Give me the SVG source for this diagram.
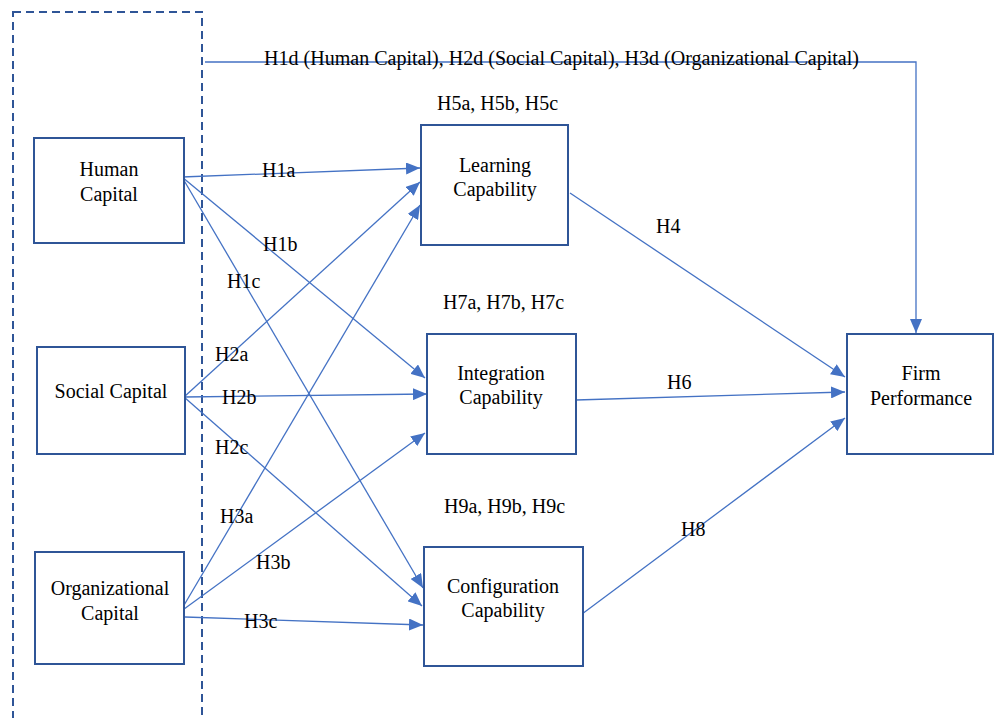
<svg xmlns="http://www.w3.org/2000/svg" width="994" height="718" viewBox="0 0 994 718">
<style>
.box{fill:#fff;stroke:#2F5597;stroke-width:2}
.t{font-family:'Liberation Serif','Times New Roman','Tinos','Nimbus Roman','DejaVu Serif',serif;font-size:20px;fill:#000}
.c{text-anchor:middle}
.ln{fill:none;stroke:#4472C4;stroke-width:1.3;marker-end:url(#ah)}
</style>
<defs>
<marker id="ah" markerUnits="userSpaceOnUse" markerWidth="14" markerHeight="12" refX="14" refY="6" orient="auto">
<path d="M0,0 L14,6 L0,12 z" fill="#4472C4"/>
</marker>
</defs>
<rect width="994" height="718" fill="#fff"/>
<g id="boundary">
<rect x="13" y="12" width="189" height="730" fill="none" stroke="#2F5597" stroke-width="2" stroke-dasharray="8,5"/>
</g>
<g id="connectors">
<polyline class="ln" points="205,62 916,62 916,333"/>
<line class="ln" x1="182" y1="177" x2="420" y2="168"/>
<line class="ln" x1="182" y1="177" x2="425" y2="378"/>
<line class="ln" x1="182" y1="177" x2="423" y2="588"/>
<line class="ln" x1="184" y1="397" x2="420" y2="182"/>
<line class="ln" x1="184" y1="397" x2="427" y2="394"/>
<line class="ln" x1="184" y1="397" x2="422" y2="606"/>
<line class="ln" x1="180" y1="612" x2="420" y2="205"/>
<line class="ln" x1="180" y1="612" x2="425" y2="433"/>
<line class="ln" x1="185" y1="617" x2="423" y2="625"/>
<line class="ln" x1="570" y1="193" x2="845" y2="377"/>
<line class="ln" x1="576" y1="400" x2="845" y2="392"/>
<line class="ln" x1="578" y1="617" x2="845" y2="418"/>
</g>
<g id="labels">
<text class="t" x="264" y="65" textLength="595" lengthAdjust="spacingAndGlyphs">H1d (Human Capital), H2d (Social Capital), H3d (Organizational Capital)</text>
<text class="t" x="437" y="110">H5a, H5b, H5c</text>
<text class="t" x="443" y="309">H7a, H7b, H7c</text>
<text class="t" x="444" y="513">H9a, H9b, H9c</text>
<text class="t" x="262" y="177">H1a</text>
<text class="t" x="263" y="251">H1b</text>
<text class="t" x="227" y="288">H1c</text>
<text class="t" x="215" y="361">H2a</text>
<text class="t" x="222" y="404">H2b</text>
<text class="t" x="215" y="454">H2c</text>
<text class="t" x="220" y="523">H3a</text>
<text class="t" x="256" y="569">H3b</text>
<text class="t" x="244" y="628">H3c</text>
<text class="t" x="656" y="233">H4</text>
<text class="t" x="667" y="389">H6</text>
<text class="t" x="681" y="536">H8</text>
</g>
<g id="human-capital">
<rect class="box" x="34" y="138" width="150" height="105"/>
<text class="t c" x="109" y="176">Human</text>
<text class="t c" x="109" y="201">Capital</text>
</g>
<g id="social-capital">
<rect class="box" x="37" y="347" width="148" height="107"/>
<text class="t c" x="111" y="398">Social Capital</text>
</g>
<g id="organizational-capital">
<rect class="box" x="35" y="552" width="149" height="112"/>
<text class="t c" x="110" y="595">Organizational</text>
<text class="t c" x="110" y="620">Capital</text>
</g>
<g id="learning-capability">
<rect class="box" x="421" y="125" width="147" height="120"/>
<text class="t c" x="495" y="172">Learning</text>
<text class="t c" x="495" y="196">Capability</text>
</g>
<g id="integration-capability">
<rect class="box" x="427" y="334" width="149" height="120"/>
<text class="t c" x="501" y="380">Integration</text>
<text class="t c" x="501" y="404">Capability</text>
</g>
<g id="configuration-capability">
<rect class="box" x="424" y="547" width="159" height="119"/>
<text class="t c" x="503" y="593">Configuration</text>
<text class="t c" x="503" y="617">Capability</text>
</g>
<g id="firm-performance">
<rect class="box" x="847" y="334" width="146" height="120"/>
<text class="t c" x="921" y="380">Firm</text>
<text class="t c" x="921" y="405">Performance</text>
</g>
</svg>
